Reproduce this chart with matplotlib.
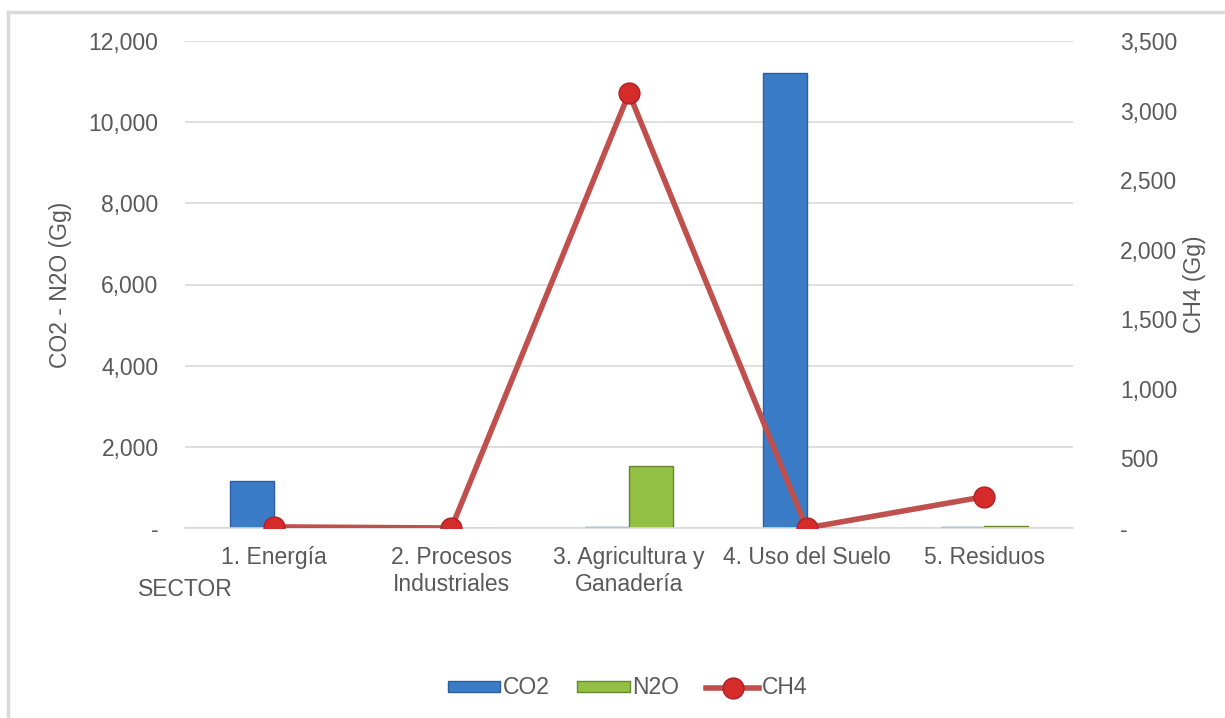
import matplotlib.pyplot as plt
import numpy as np
from matplotlib.lines import Line2D
from matplotlib.ticker import FuncFormatter

sectores = ['1. Energía', '2. Procesos\nIndustriales', '3. Agricultura y\nGanadería',
            '4. Uso del Suelo', '5. Residuos']
co2 = [1160, 0, 25, 11220, 30]
n2o = [0, 0, 1530, 0, 40]
ch4 = [8, 0, 3125, 0, 225]

gris = '#595959'
fs = 16.5
plt.rcParams['font.family'] = ['Liberation Sans', 'DejaVu Sans']

fig = plt.figure(figsize=(12.25, 7.18), dpi=100)
ax = fig.add_axes([185 / 1225, 1 - 528 / 718, 888 / 1225, 487 / 718])
ax2 = ax.twinx()

x = np.arange(len(sectores))
ancho = 0.245
ax.bar(x - ancho / 2, co2, ancho, color='#3b7cc9', edgecolor='#2c5f9e', linewidth=1, label='CO2', zorder=2)
ax.bar(x + ancho / 2, n2o, ancho, color='#92c043', edgecolor='#66872a', linewidth=1, label='N2O', zorder=2)
ax2.plot(x, ch4, color='#c0504d', linewidth=4, marker='o', markersize=15,
         markerfacecolor='#d52b2b', markeredgecolor='#b02020', label='CH4', zorder=3)

ax.set_xlim(-0.5, 4.5)
ax.set_ylim(0, 12000)
ax2.set_ylim(0, 3500)
ax.set_yticks(np.arange(0, 12001, 2000))
ax2.set_yticks(np.arange(0, 3501, 500))

fmt = FuncFormatter(lambda v, p: '-' if v == 0 else f'{v:,.0f}')
ax.yaxis.set_major_formatter(fmt)
ax2.yaxis.set_major_formatter(fmt)

ax.grid(axis='y', color='#d9d9d9', linewidth=1.2, zorder=0)
ax.set_axisbelow(True)
for a in (ax, ax2):
    for s in a.spines.values():
        s.set_visible(False)
    a.tick_params(length=0, labelsize=fs, labelcolor=gris)
ax.spines['bottom'].set_visible(True)
ax.spines['bottom'].set_color('#d9d9d9')
ax.spines['bottom'].set_linewidth(1.2)

ax.tick_params(axis='y', pad=19)
ax2.tick_params(axis='y', pad=34)
ax.set_xticks(x)
ax.set_xticklabels(sectores, fontsize=fs, color=gris, linespacing=1.2)
ax.tick_params(axis='x', pad=13)

ax.set_ylabel('CO2 - N2O (Gg)', fontsize=fs, color=gris, labelpad=12)
ax2.set_ylabel('CH4 (Gg)', fontsize=fs, color=gris, labelpad=4)
fig.text(138 / 1225, 1 - 589 / 718, 'SECTOR', fontsize=fs, color=gris, va='center')

h1, l1 = ax.get_legend_handles_labels()
h2, l2 = ax2.get_legend_handles_labels()
fig.legend(h1 + h2, l1 + l2, loc='center', bbox_to_anchor=(0.512, 1 - 688 / 718), ncol=3,
           frameon=False, fontsize=fs, labelcolor=gris, handlelength=2.3, handleheight=0.35,
           handletextpad=0.1, columnspacing=1.2)

# marco del gráfico
fig.add_artist(Line2D([8 / 1225, 8 / 1225], [0, 1 - 12 / 718], color='#d9d9d9', linewidth=2.5))
fig.add_artist(Line2D([8 / 1225, 1], [1 - 12 / 718, 1 - 12 / 718], color='#d9d9d9', linewidth=2.5))

fig.savefig('out.png', dpi=100)
